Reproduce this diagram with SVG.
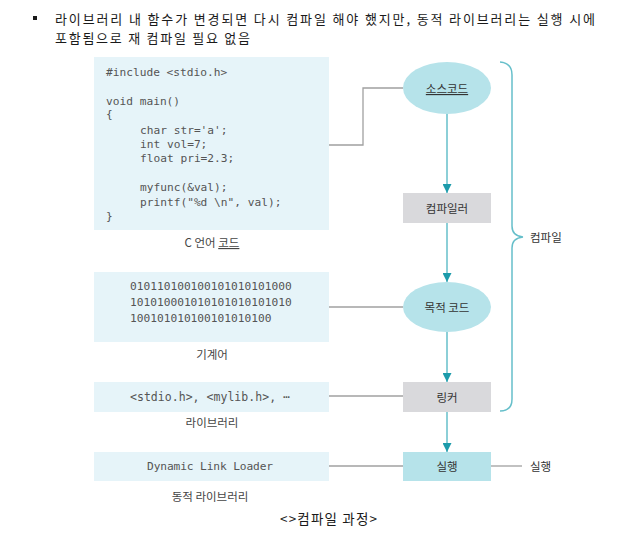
<svg xmlns="http://www.w3.org/2000/svg" width="626" height="538" viewBox="0 0 626 538">
<style>
.title{font-family:"Noto Sans CJK KR","Liberation Sans",sans-serif;font-size:13px;fill:#1a1a1a}
.code{font-family:"DejaVu Sans Mono","Liberation Mono",monospace;font-size:11.2px;fill:#555}
.lbl{font-family:"Noto Sans CJK KR","Noto Sans",sans-serif;font-size:11.5px;fill:#444;text-anchor:middle}
.node{font-family:"Noto Sans CJK KR","Noto Sans",sans-serif;font-size:11.5px;fill:#333;text-anchor:middle;dominant-baseline:central}
.panel{fill:#e6f4f9}
.cyan{fill:#b6e3ea}
.gray{fill:#d9d9dc}
.flow{stroke:#66bfca;stroke-width:1.5;fill:none}
.link{stroke:#a0a0a0;stroke-width:1.3;fill:none}
</style>
<defs>
<marker id="ah" viewBox="0 0 10 10" refX="10" refY="5" markerWidth="9" markerHeight="9" markerUnits="userSpaceOnUse" orient="auto">
<path d="M0,0 L10,5 L0,10 z" fill="#1c9bab"/>
</marker>
</defs>
<rect width="626" height="538" fill="#fff"/>
<g id="heading">
<rect x="33" y="16" width="4" height="4" fill="#1a1a1a"/>
<text class="title" x="55" y="24" textLength="540" lengthAdjust="spacing">라이브러리 내 함수가 변경되면 다시 컴파일 해야 했지만, 동적 라이브러리는 실행 시에</text>
<text class="title" x="55" y="43" textLength="195" lengthAdjust="spacing">포함됨으로 재 컴파일 필요 없음</text>
</g>
<g id="connectors">
<polyline class="link" points="329,145 363,145 363,88 403,88"/>
<line class="link" x1="329" y1="307" x2="403" y2="307"/>
<line class="link" x1="329" y1="396" x2="403" y2="396"/>
<line class="link" x1="329" y1="466" x2="403" y2="466"/>
<line class="link" x1="491" y1="466" x2="522" y2="466"/>
<line class="flow" x1="447" y1="114" x2="447" y2="193" marker-end="url(#ah)"/>
<line class="flow" x1="447" y1="223" x2="447" y2="282" marker-end="url(#ah)"/>
<line class="flow" x1="447" y1="332" x2="447" y2="382" marker-end="url(#ah)"/>
<line class="flow" x1="447" y1="412" x2="447" y2="452" marker-end="url(#ah)"/>
<path class="flow" d="M500,62 Q512,63 512,75 L512,226 Q512,236 523,237 Q512,238 512,248 L512,399 Q512,411 500,411"/>
</g>
<g id="c-code">
<rect class="panel" x="94" y="57" width="235" height="173"/>
<text class="code" x="106" y="76">#include &lt;stdio.h&gt;</text>
<text class="code" x="106" y="105">void main()</text>
<text class="code" x="106" y="118">{</text>
<text class="code" x="140" y="134">char str='a';</text>
<text class="code" x="140" y="148">int vol=7;</text>
<text class="code" x="140" y="162">float pri=2.3;</text>
<text class="code" x="140" y="191">myfunc(&amp;val);</text>
<text class="code" x="140" y="206">printf("%d \n", val);</text>
<text class="code" x="106" y="220">}</text>
<text class="lbl" x="212" y="247">C 언어 <tspan text-decoration="underline">코드</tspan></text>
</g>
<g id="machine-code">
<rect class="panel" x="94" y="272" width="235" height="70"/>
<text class="code" x="130" y="290">010110100100101010101000</text>
<text class="code" x="130" y="306">101010001010101010101010</text>
<text class="code" x="130" y="322">100101010100101010100</text>
<text class="lbl" x="212" y="359">기계어</text>
</g>
<g id="library">
<rect class="panel" x="94" y="382" width="235" height="30"/>
<text class="code" x="130" y="401" textLength="160" lengthAdjust="spacing" style="font-size:11.5px">&lt;stdio.h&gt;, &lt;mylib.h&gt;, ⋯</text>
<text class="lbl" x="212" y="427">라이브러리</text>
</g>
<g id="dynamic-library">
<rect class="panel" x="94" y="452" width="235" height="29"/>
<text class="code" x="147" y="470" textLength="126" lengthAdjust="spacing">Dynamic Link Loader</text>
<text class="lbl" x="210" y="501">동적 라이브러리</text>
</g>
<g id="source">
<ellipse class="cyan" cx="447" cy="88" rx="44" ry="26"/>
<text class="node" x="447" y="88" text-decoration="underline">소스코드</text>
</g>
<g id="compiler">
<rect class="gray" x="403" y="193" width="88" height="30"/>
<text class="node" x="447" y="208">컴파일러</text>
</g>
<g id="object">
<ellipse class="cyan" cx="447" cy="307" rx="44" ry="25"/>
<text class="node" x="447" y="307">목적 코드</text>
</g>
<g id="linker">
<rect class="gray" x="403" y="382" width="88" height="30"/>
<text class="node" x="447" y="397">링커</text>
</g>
<g id="run">
<rect class="cyan" x="403" y="452" width="88" height="29"/>
<text class="node" x="447" y="466">실행</text>
</g>
<g id="labels">
<text class="node" x="530" y="237" style="text-anchor:start">컴파일</text>
<text class="node" x="530" y="466" style="text-anchor:start">실행</text>
</g>
<g id="caption">
<text class="title" x="280" y="524" textLength="97" lengthAdjust="spacing" style="font-size:13.5px">&lt;&gt;컴파일 과정&gt;</text>
</g>
</svg>
